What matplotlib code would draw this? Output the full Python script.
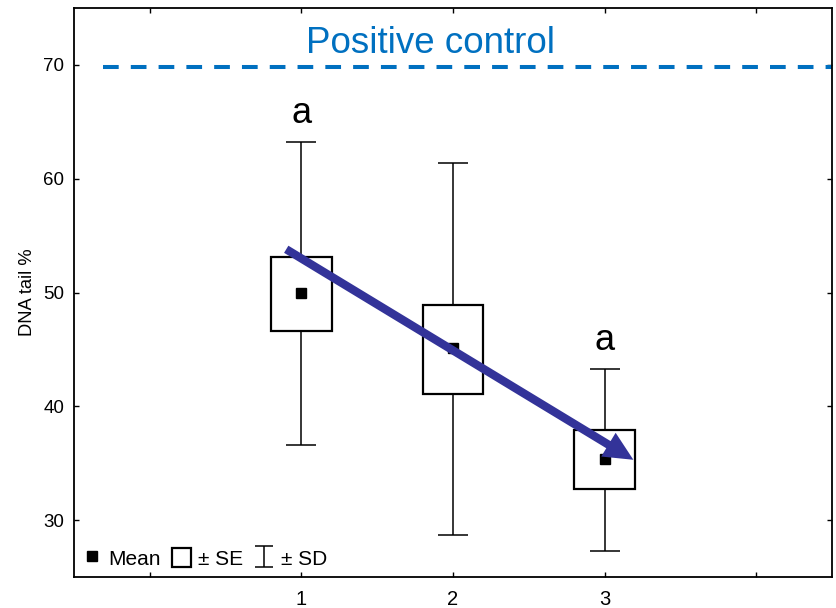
import matplotlib
matplotlib.use('Agg')
import matplotlib.pyplot as plt
from matplotlib.lines import Line2D
from matplotlib.legend_handler import HandlerErrorbar

plt.rcParams['font.family'] = ['Liberation Sans', 'DejaVu Sans']

# values
groups = [1, 2, 3]
means = [50.0, 45.1, 35.4]
se_low = [46.6, 41.1, 32.7]
se_high = [53.15, 48.9, 37.9]
sd_low = [36.6, 28.7, 27.3]
sd_high = [63.2, 61.4, 43.25]
letters = ['a', '', 'a']
letter_y = [64.9, None, 44.95]
control_level = 69.8
trend_start = (0.90, 53.8)
trend_end = (3.19, 35.3)
xtick_pos = [0, 1, 2, 3, 4]
xtick_labels = ['', '1', '2', '3', '']

fig = plt.figure(figsize=(8.37, 6.08), dpi=100)
ax = fig.add_axes([0.0884, 0.051, 0.9056, 0.9358])

# SD whiskers
yerr = [[m - lo for m, lo in zip(means, sd_low)],
        [hi - m for m, hi in zip(means, sd_high)]]
eb = ax.errorbar(groups, means, yerr=yerr, fmt='none', ecolor='black',
                 elinewidth=1.1, capsize=10.8, capthick=1.1, zorder=2)

# SE boxes
boxes = ax.bar(groups, [h - l for h, l in zip(se_high, se_low)], bottom=se_low,
               width=0.4, facecolor='white', edgecolor='black', linewidth=1.6,
               zorder=3)

# means
mean_pts, = ax.plot(groups, means, 's', color='black', markersize=7, zorder=4)

# positive control
ax.hlines(control_level, -0.31, 4.5, colors='#0070C0', linewidth=2.9,
          linestyles=(0, (3.9, 3.0)), zorder=2)
ax.text(1.85, 71.05, 'Positive control', color='#0070C0', fontsize=26.5,
        ha='center', va='baseline')

for g, s, yy in zip(groups, letters, letter_y):
    if s:
        ax.text(g, yy, s, fontsize=26, ha='center', va='baseline')

# trend arrow
ax.annotate('', xy=trend_end, xytext=trend_start,
            arrowprops=dict(arrowstyle='simple,head_length=2.1,head_width=2.0,tail_width=0.6',
                            lw=0, color='#333399', mutation_scale=10,
                            shrinkA=0, shrinkB=0),
            zorder=5)

ax.set_xlim(-0.5, 4.5)
ax.set_ylim(25, 75)
ax.set_xticks(xtick_pos)
ax.set_xticklabels(xtick_labels)
ax.set_yticks([30, 40, 50, 60, 70])
ax.tick_params(direction='in', top=True, right=True, length=3.5, width=1)
ax.tick_params(axis='y', labelsize=13.5, pad=7)
ax.tick_params(axis='x', labelsize=14.5, pad=9.5)
for sp in ax.spines.values():
    sp.set_linewidth(1.3)
ax.set_ylabel('DNA tail %', fontsize=13.2, labelpad=5)


def small_caps(leg, orig):
    leg.update_from(orig)
    if isinstance(leg, Line2D) and leg.get_marker() == '_':
        leg.set_markersize(13)


ax.legend([mean_pts, boxes[0], eb], ['Mean', '± SE', '± SD'],
          loc='lower left', ncol=3, frameon=False, fontsize=15,
          handlelength=0.9, handleheight=1.0, handletextpad=0.35,
          columnspacing=0.55, borderaxespad=0.1, borderpad=0.3,
          handler_map={type(eb): HandlerErrorbar(update_func=small_caps)})

fig.savefig('out.png', dpi=100)
